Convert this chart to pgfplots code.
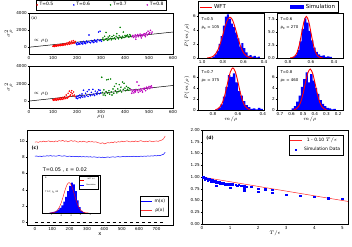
\documentclass[border=0pt]{standalone}
\usepackage{fontspec}
\setmainfont{DejaVu Sans}
\usepackage{pgfplots}
\pgfplotsset{compat=1.18}
\definecolor{mplgreen}{rgb}{0,0.5,0}
\definecolor{mplmag}{rgb}{0.75,0,0.75}
\tikzset{tl/.style={font=\fontsize{3.9}{4.5}\selectfont, anchor=west, inner sep=0pt}}
\pgfplotsset{
 limg/.style={legend image code/.code={\draw[##1] (0bp,0bp) -- (#1,0bp);}},
 rimg/.style={legend image code/.code={\fill[##1] (0bp,-2bp) rectangle (14bp,2.5bp);}},
 mimg/.style={legend image code/.code={\draw[mark repeat=2,mark phase=2,##1] plot coordinates {(0bp,0bp)(#1/2,0bp)(#1,0bp)};}},
 base/.style={scale only axis, anchor=south west,
   axis line style={line width=0.5pt},
   every tick/.style={black, line width=0.3pt},
   major tick length=1.3pt,
   tick align=outside, xtick pos=bottom, ytick pos=left,
   tick label style={font=\fontsize{4.1}{4.5}\selectfont, inner sep=0.8pt},
   label style={font=\fontsize{5.2}{6}\selectfont},
   /pgf/number format/assume math mode=true,
   /pgf/number format/1000 sep={},
   legend style={font=\fontsize{4.5}{5}\selectfont},
 },
 pa/.style={base, width=144bp, xmin=0, xmax=600, ymin=-800, ymax=4050,
   xtick={0,100,...,600}, ytick={0,2000,4000},
   ylabel={$\sigma^2_\rho$}, ylabel style={at={(axis description cs:-0.14,0.5)}, anchor=center}},
 pb/.style={base, x dir=reverse, ymin=0,
   xticklabel style={/pgf/number format/.cd, fixed, zerofill, precision=1}},
 sc/.style={only marks, mark=*, mark size=0.55bp, #1},
 hb/.style={ybar interval, fill=blue, draw=none},
 wf/.style={red, line width=0.9pt, smooth},
}
\begin{document}
\begin{tikzpicture}
\useasboundingbox (0,0) rectangle (352bp,247bp);
\fill[white] (0,0) rectangle (352bp,247bp);

% ---------------- (a) top
\begin{axis}[pa, at={(29bp,193bp)}, height=41bp,
  legend columns=4,
  legend style={at={(axis description cs:0.5,1.07)}, anchor=south, draw=black, line width=0.4pt, inner sep=0.6pt,
    /tikz/every even column/.append style={column sep=18bp}},
  mimg=6bp]
\addplot[sc=red] coordinates {(100,120)(103,180)(105,90)(108,210)(110,150)(112,260)(115,130)(117,200)(120,240)(122,170)(125,300)(127,220)(130,180)(132,330)(135,260)(138,210)(140,380)(142,300)(145,250)(148,420)(150,340)(152,280)(155,480)(158,380)(160,320)(163,560)(165,430)(168,360)(170,620)(173,470)(175,400)(178,720)(180,540)(183,460)(185,780)(188,600)(190,500)(193,680)};
\addlegendentry{T=0.5}
\addplot[sc=blue] coordinates {(197,420)(200,300)(203,550)(206,380)(209,470)(212,350)(215,620)(218,450)(221,520)(224,390)(227,680)(230,500)(233,580)(236,430)(240,720)(243,560)(246,640)(250,1450)(253,600)(256,520)(260,780)(263,640)(266,700)(270,560)(273,850)(276,700)(280,760)(283,620)(286,900)(290,1800)(293,780)(296,1900)(299,850)(302,700)};
\addlegendentry{T=0.6}
\addplot[sc=mplgreen] coordinates {(305,900)(308,1100)(312,800)(315,1300)(318,950)(321,1750)(324,1000)(327,820)(330,1200)(333,900)(336,1350)(340,1050)(343,880)(346,1250)(350,1000)(353,1400)(356,1100)(360,950)(363,1300)(366,1600)(370,1150)(373,1000)(376,1350)(380,2350)(383,1200)(386,1050)(390,1300)(393,1800)(396,1150)(400,1400)(403,1250)(406,1350)(410,1450)(413,1300)(416,1200)(420,1500)(423,1350)(426,1250)};
\addlegendentry{T=0.7}
\addplot[sc=mplmag] coordinates {(430,1250)(433,1400)(436,1150)(440,1300)(443,1450)(446,1200)(450,1350)(453,1500)(456,1250)(460,1400)(463,1550)(466,1300)(470,1450)(473,1350)(476,1500)(480,1600)(483,1400)(486,1550)(490,1700)(493,1450)(496,1900)(500,1600)(503,1750)(506,2000)(510,1650)(513,1800)(445,950)(468,1100)(485,1250)};
\addlegendentry{T=0.8}
\addplot[black, line width=0.5pt, forget plot] coordinates {(0,0)(600,1800)};
\node[font=\fontsize{4}{5}\selectfont, anchor=west, inner sep=0pt] at (axis description cs:0.015,0.88) {(a)};
\node[font=\fontsize{5.2}{6}\selectfont, anchor=west, inner sep=0pt] at (axis cs:18,760) {$\propto\rho_0$};
\end{axis}

% ---------------- (a) bottom
\begin{axis}[pa, at={(29bp,139bp)}, height=42bp, xlabel={$\rho_0$}, xlabel style={yshift=2.5bp}]
\addplot[sc=red] coordinates {(100,150)(103,80)(105,220)(108,120)(110,260)(112,180)(115,100)(117,300)(120,200)(122,150)(125,340)(127,240)(130,180)(132,380)(135,270)(138,200)(140,420)(143,320)(145,250)(148,500)(150,360)(153,300)(155,700)(158,420)(160,350)(163,900)(165,480)(168,1150)(170,560)(173,700)(175,1000)(178,1200)(180,850)(183,620)(186,1050)(189,700)(192,500)};
\addplot[sc=blue] coordinates {(197,350)(200,520)(203,280)(206,600)(209,420)(212,700)(215,380)(218,550)(221,820)(224,460)(227,1250)(230,600)(233,480)(236,900)(240,650)(243,1100)(246,540)(250,1300)(253,750)(256,620)(260,1000)(263,700)(266,1350)(270,800)(273,650)(276,1150)(280,900)(283,750)(286,1050)(290,1300)(293,850)(296,1250)(299,950)};
\addplot[sc=mplgreen] coordinates {(303,2750)(306,1000)(309,700)(312,1300)(315,850)(318,650)(321,1100)(324,2450)(327,900)(330,2500)(333,1200)(336,800)(340,2550)(343,1050)(346,700)(350,1400)(353,900)(356,1700)(360,1200)(363,2000)(366,950)(370,1400)(373,1100)(376,1900)(380,1250)(383,1600)(386,1050)(390,2200)(393,1350)(396,2050)(400,1500)(403,1200)(406,1700)(410,1350)(413,1550)(416,1250)(420,1450)};
\addplot[sc=mplmag] coordinates {(425,1300)(428,900)(431,1100)(434,1250)(437,950)(440,1150)(443,1050)(446,1350)(450,2200)(453,1200)(456,1000)(460,1300)(463,1150)(466,1400)(470,1250)(473,1050)(476,1450)(480,1350)(483,1500)(486,1200)(490,1600)(493,1400)(496,1550)(500,1700)(503,1450)(506,1650)(510,1750)(513,1550)(445,1200)(458,1800)};
\addplot[black, line width=0.5pt] coordinates {(0,0)(600,1800)};
\node[font=\fontsize{5.2}{6}\selectfont, anchor=west, inner sep=0pt] at (axis cs:18,830) {$\propto\rho_0$};
\end{axis}

% ---------------- (b) top-left
\begin{axis}[pb, at={(198bp,189bp)}, width=66bp, height=45bp, xmin=0.4, xmax=1.04,
  xtick={0.4,0.6,0.8,1.0}, ymax=6.4, ytick={0,2,4,6},
  ylabel={$P(m/\rho)$}, ylabel style={at={(axis description cs:-0.17,0.5)}, anchor=center},
  legend columns=2,
  legend style={at={(axis description cs:0,1.133)}, anchor=west, draw=black, line width=0.5pt,
    font=\fontsize{5.5}{6}\selectfont, inner sep=0.8pt,
    /tikz/every even column/.append style={column sep=62bp}}]
\addlegendimage{red, line width=1pt, limg=12bp}
\addlegendentry{WFT}
\addlegendimage{fill=blue, draw=none, rimg}
\addlegendentry{Simulation}
\addplot[hb] coordinates {(0.44,0.2)(0.46,0.1)(0.48,0.3)(0.50,0.2)(0.52,0.4)(0.54,0.3)(0.56,0.8)(0.58,1.4)(0.60,2.1)(0.62,1.6)(0.64,2.8)(0.66,3.6)(0.68,4.4)(0.70,4.9)(0.72,5.6)(0.74,6.2)(0.76,5.9)(0.78,4.6)(0.80,3.1)(0.82,2.0)(0.84,1.0)(0.86,0.5)(0.88,0.2)(0.90,0)};
\addplot[wf] coordinates {(0.51,0.01)(0.53,0.05)(0.55,0.13)(0.57,0.28)(0.59,0.57)(0.61,1.06)(0.63,1.77)(0.65,2.72)(0.67,3.79)(0.69,4.8)(0.71,5.53)(0.73,5.8)(0.75,5.53)(0.77,4.8)(0.79,3.79)(0.81,2.72)(0.83,1.77)(0.85,1.06)(0.87,0.57)(0.89,0.28)(0.91,0.13)(0.93,0.05)(0.95,0.01)};
\node[tl] at (axis description cs:0.05,0.86) {T=0.5};
\node[tl] at (axis description cs:0.05,0.68) {ρ\textsubscript{0} = 105};
\node[font=\fontsize{4}{5}\selectfont] at (axis description cs:1.06,1.133) {(b)};
\end{axis}

% ---------------- (b) top-right
\begin{axis}[pb, at={(277bp,189bp)}, width=66bp, height=45bp, xmin=0.323, xmax=0.894,
  xtick={0.4,0.6,0.8}, ymax=8.65, ytick={0,2.5,5,7.5},
  yticklabel style={/pgf/number format/.cd, fixed, zerofill, precision=1}]
\addplot[hb] coordinates {(0.42,0.2)(0.44,0.3)(0.46,0.2)(0.48,0.5)(0.50,0.4)(0.52,0.7)(0.54,1.2)(0.56,2.0)(0.58,3.4)(0.60,5.2)(0.62,6.8)(0.64,7.6)(0.66,5.6)(0.68,3.2)(0.70,1.5)(0.72,0.6)(0.74,0.2)(0.76,0)};
\addplot[wf] coordinates {(0.50,0.02)(0.52,0.09)(0.54,0.35)(0.56,1.08)(0.58,2.6)(0.60,4.85)(0.62,7.06)(0.64,8.0)(0.66,7.06)(0.68,4.85)(0.70,2.6)(0.72,1.08)(0.74,0.35)(0.76,0.09)(0.78,0.02)};
\node[tl] at (axis description cs:0.05,0.86) {T=0.6};
\node[tl] at (axis description cs:0.05,0.68) {ρ\textsubscript{0} = 270};
\end{axis}

% ---------------- (b) bottom-left
\begin{axis}[pb, at={(198bp,137bp)}, width=66bp, height=44bp, xmin=0.39, xmax=0.92,
  xtick={0.4,0.6,0.8}, ymax=7.95, ytick={0,2,4,6},
  ylabel={$P(m/\rho)$}, ylabel style={at={(axis description cs:-0.17,0.5)}, anchor=center},
  xlabel={$m/\rho$}, xlabel style={yshift=2.5bp}]
\addplot[hb] coordinates {(0.40,0.2)(0.42,0.4)(0.44,0.1)(0.46,0.3)(0.48,0.2)(0.50,0.5)(0.52,0.9)(0.54,1.6)(0.56,2.6)(0.58,3.4)(0.60,5.0)(0.62,6.6)(0.64,6.0)(0.66,6.3)(0.68,4.2)(0.70,2.4)(0.72,1.0)(0.74,0.4)(0.76,0.1)(0.78,0)};
\addplot[wf] coordinates {(0.50,0.06)(0.52,0.22)(0.54,0.64)(0.56,1.56)(0.58,3.12)(0.60,5.12)(0.62,6.88)(0.64,7.6)(0.66,6.88)(0.68,5.12)(0.70,3.12)(0.72,1.56)(0.74,0.64)(0.76,0.22)(0.78,0.06)};
\node[tl] at (axis description cs:0.05,0.86) {T=0.7};
\node[tl] at (axis description cs:0.05,0.68) {ρ\textsubscript{0} = 375};
\end{axis}

% ---------------- (b) bottom-right
\begin{axis}[pb, at={(277bp,137bp)}, width=66bp, height=44bp, xmin=0.158, xmax=0.725,
  xtick={0.2,0.3,...,0.7}, ymax=7.95, ytick={0,2,4,6},
  xlabel={$m/\rho$}, xlabel style={yshift=2.5bp}]
\addplot[hb] coordinates {(0.22,0.2)(0.24,0.1)(0.26,0.3)(0.28,0.4)(0.30,0.7)(0.32,1.1)(0.34,1.8)(0.36,2.9)(0.38,4.0)(0.40,5.3)(0.42,6.5)(0.44,5.0)(0.46,6.8)(0.48,5.6)(0.50,4.2)(0.52,2.6)(0.54,1.5)(0.56,0.7)(0.58,0.3)(0.60,0)};
\addplot[wf] coordinates {(0.30,0.06)(0.32,0.21)(0.34,0.63)(0.36,1.52)(0.38,3.04)(0.40,4.99)(0.42,6.7)(0.44,7.4)(0.46,6.7)(0.48,4.99)(0.50,3.04)(0.52,1.52)(0.54,0.63)(0.56,0.21)(0.58,0.06)};
\node[tl] at (axis description cs:0.05,0.86) {T=0.8};
\node[tl] at (axis description cs:0.05,0.68) {ρ\textsubscript{0} = 460};
\end{axis}

% ---------------- (c)
\begin{axis}[base, at={(27bp,22bp)}, width=146bp, height=95bp, xmin=-45, xmax=795, ymin=-0.35, ymax=11.35,
  xtick={0,100,...,700}, ytick={0,2,...,10}, xlabel={x}, xlabel style={yshift=2.5bp},
  axis line style={line width=0.7pt},
  legend style={at={(axis description cs:0.966,0.095)}, anchor=south east, draw=black, inner sep=0.8pt, line width=0.4pt},
  limg=11bp]
\addplot[blue, line width=0.5pt] coordinates {(0,8.12)(10,8.15)(20,8.1)(30,8.13)(40,8.08)(50,8.15)(60,8.12)(70,8.18)(80,8.14)(90,8.2)(100,8.13)(110,8.17)(120,8.12)(130,8.16)(140,8.2)(150,8.15)(160,8.13)(170,8.18)(180,8.12)(190,8.1)(200,8.14)(210,8.08)(220,8.12)(230,8.06)(240,8.1)(250,8.05)(260,8.09)(270,8.04)(280,8.08)(290,8.03)(300,8.07)(310,8.02)(320,8.06)(330,8.0)(340,8.05)(350,8.01)(360,7.98)(370,8.02)(380,7.97)(390,8.0)(400,7.95)(410,7.99)(420,8.03)(430,7.98)(440,8.02)(450,8.05)(460,8.0)(470,8.04)(480,8.07)(490,8.02)(500,8.06)(510,8.1)(520,8.05)(530,8.09)(540,8.06)(550,8.1)(560,8.08)(570,8.12)(580,8.07)(590,8.11)(600,8.08)(610,8.13)(620,8.1)(630,8.14)(640,8.11)(650,8.16)(660,8.12)(670,8.17)(680,8.14)(690,8.2)(700,8.16)(710,8.22)(720,8.2)(730,8.28)(740,8.35)(750,8.6)};
\addlegendentry{m(x)}
\addplot[red!80!white, line width=0.5pt] coordinates {(0,9.85)(10,9.9)(20,9.82)(30,9.93)(40,9.88)(50,9.98)(60,9.9)(70,9.95)(80,10.02)(90,9.9)(100,9.95)(110,9.88)(120,10.0)(130,9.93)(140,10.05)(150,9.97)(160,10.08)(170,9.95)(180,10.02)(190,9.9)(200,9.98)(210,10.05)(220,9.95)(230,10.03)(240,9.92)(250,9.85)(260,9.95)(270,9.88)(280,9.97)(290,9.9)(300,9.84)(310,9.95)(320,9.88)(330,9.93)(340,9.85)(350,9.9)(360,9.82)(370,9.75)(380,9.7)(390,9.78)(400,9.65)(410,9.72)(420,9.8)(430,9.75)(440,9.85)(450,9.78)(460,9.9)(470,9.82)(480,9.92)(490,9.86)(500,9.98)(510,9.9)(520,9.95)(530,10.02)(540,9.93)(550,9.88)(560,9.97)(570,9.9)(580,10.0)(590,9.92)(600,9.97)(610,10.04)(620,9.95)(630,9.9)(640,9.98)(650,9.92)(660,10.02)(670,9.95)(680,9.9)(690,9.97)(700,10.0)(710,9.95)(720,10.05)(730,10.1)(740,10.25)(750,10.6)};
\addlegendentry{ρ(x)}
\addplot[black, dashed, line width=0.4pt, forget plot] coordinates {(0,0)(750,0)};
\node[font=\bfseries\fontsize{4.5}{5}\selectfont, anchor=west, inner sep=0pt] at (axis cs:-20,9.1) {(c)};
\node[font=\fontsize{5}{6}\selectfont, anchor=west, inner sep=0pt] at (axis cs:45,6.4) {T=0.05 , ε = 0.02};
\end{axis}

% ---------------- (c) inset
\begin{axis}[base, at={(42bp,34bp)}, width=58bp, height=38bp, xmin=0, xmax=6, ymin=0, ymax=0.9,
  axis background/.style={fill=white}, axis line style={line width=0.3pt},
  xtick={1,2,3,4,5}, ytick=\empty, major tick length=0.8pt,
  tick label style={font=\fontsize{2.2}{2.5}\selectfont, inner sep=0.4pt},
  legend style={at={(axis description cs:0.97,0.97)}, anchor=north east, draw=black, line width=0.2pt,
    font=\fontsize{1.8}{2}\selectfont, inner sep=0.3pt, row sep=-1.5pt},
  limg=4bp]
\addlegendimage{red, line width=0.5pt}
\addlegendentry{WFT (n)}
\addlegendimage{blue, line width=1.2pt}
\addlegendentry{Simulation}
\addplot[hb] coordinates {(0.8,0.01)(1.0,0.02)(1.2,0.03)(1.4,0.05)(1.6,0.08)(1.8,0.12)(2.0,0.18)(2.2,0.27)(2.4,0.38)(2.6,0.52)(2.8,0.64)(3.0,0.72)(3.2,0.68)(3.4,0.52)(3.6,0.3)(3.8,0.14)(4.0,0.05)(4.2,0.02)(4.4,0)};
\addplot[red, line width=0.4pt, smooth] coordinates {(0.8,0.001)(1.0,0.004)(1.2,0.01)(1.4,0.028)(1.6,0.067)(1.8,0.138)(2.0,0.25)(2.2,0.397)(2.4,0.553)(2.6,0.674)(2.8,0.72)(3.0,0.674)(3.2,0.553)(3.4,0.397)(3.6,0.25)(3.8,0.138)(4.0,0.067)(4.2,0.028)(4.4,0.01)(4.6,0.004)(4.8,0.001)};
\node[font=\fontsize{2.2}{2.5}\selectfont, anchor=west, inner sep=0pt] at (axis description cs:0.05,0.55) {T 0.7, ρ\textsubscript{0} 63};
\node[font=\fontsize{2.2}{2.5}\selectfont, anchor=west, inner sep=0pt] at (axis description cs:0.05,0.92) {6};
\end{axis}

% ---------------- (d)
\begin{axis}[base, at={(202bp,23bp)}, width=146bp, height=94bp, xmin=0, xmax=5.2, ymin=0, ymax=2,
  xtick={0,1,...,5}, ytick={0,0.25,...,2},
  yticklabel style={/pgf/number format/.cd, fixed, zerofill, precision=2},
  xlabel={$T/\epsilon$}, xlabel style={yshift=2.5bp},
  legend style={at={(axis description cs:0.966,0.947)}, anchor=north east, draw=black, inner sep=0.8pt, line width=0.4pt},
  limg=12bp]
\addplot[red!85!white, line width=0.5pt] coordinates {(0,1)(5.2,0.48)};
\addlegendentry{1 - 0.10 $T/\epsilon$}
\addplot[only marks, mark=square*, mark size=0.7bp, blue, mimg=12bp] coordinates {(0.02,0.99)(0.04,1.0)(0.05,0.98)(0.08,0.99)(0.1,0.97)(0.1,0.95)(0.12,0.98)(0.15,0.96)(0.18,0.97)(0.2,0.95)(0.2,0.93)(0.22,0.96)(0.25,0.94)(0.28,0.95)(0.3,0.93)(0.3,0.91)(0.32,0.94)(0.35,0.92)(0.38,0.93)(0.4,0.91)(0.42,0.92)(0.45,0.9)(0.48,0.91)(0.5,0.89)(0.5,0.82)(0.55,0.9)(0.6,0.88)(0.62,0.89)(0.65,0.87)(0.7,0.88)(0.72,0.86)(0.75,0.87)(0.8,0.85)(0.82,0.86)(0.85,0.84)(0.9,0.85)(0.95,0.84)(1.0,0.86)(1.0,0.83)(1.0,0.77)(1.1,0.85)(1.2,0.84)(1.25,0.81)(1.3,0.83)(1.4,0.82)(1.5,0.82)(1.5,0.78)(1.5,0.72)(1.6,0.8)(1.75,0.79)(2.0,0.75)(2.0,0.69)(2.25,0.74)(2.5,0.73)(2.5,0.67)(3.0,0.62)(3.5,0.6)(4.0,0.58)(4.5,0.55)(5.0,0.54)};
\addlegendentry{Simulation Data}
\node[font=\bfseries\fontsize{4.5}{5}\selectfont, anchor=west, inner sep=0pt] at (axis cs:0.15,1.83) {(d)};
\end{axis}
\end{tikzpicture}
\end{document}
